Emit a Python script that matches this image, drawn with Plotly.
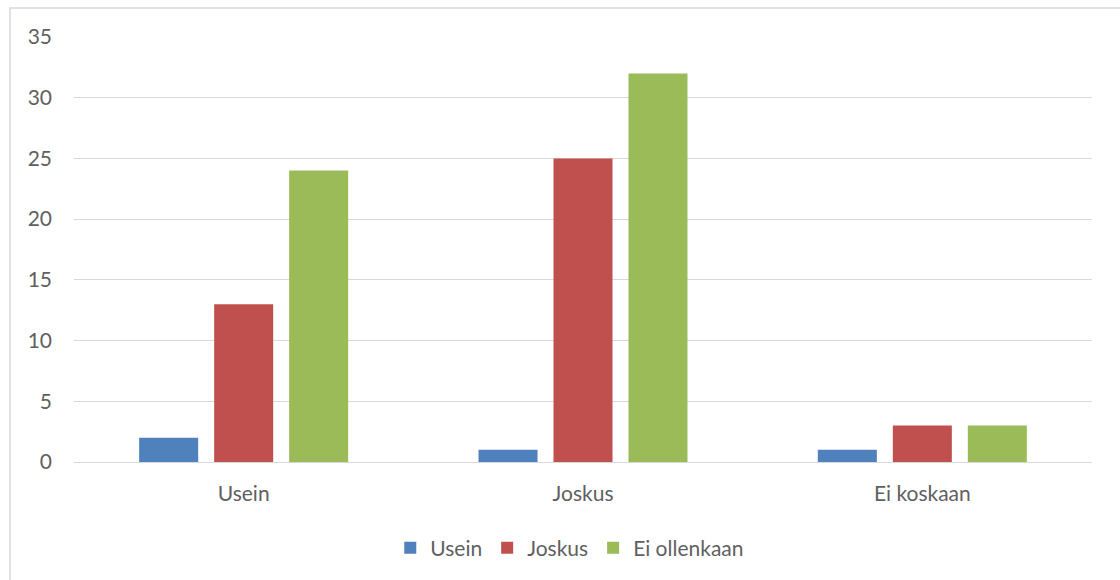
import plotly.graph_objects as go

categories = ["Usein", "Joskus", "Ei koskaan"]
series_names = ["Usein", "Joskus", "Ei ollenkaan"]
usein = [2, 1, 1]
joskus = [13, 25, 3]
ei_ollenkaan = [24, 32, 3]
colors = ["#4F81BD", "#C0504D", "#9BBB59"]
y_ticks = [0, 5, 10, 15, 20, 25, 30, 35]

fig = go.Figure()
for name, vals, col in zip(series_names, [usein, joskus, ei_ollenkaan], colors):
    fig.add_trace(go.Bar(x=categories, y=vals, name=name, marker_color=col,
                         marker_line_width=0))

W, H = 1120, 580
l, r, t, b = 74, 28, 37, 117
pw, ph = W - l - r, H - t - b

FONT = "Lato, Open Sans, sans-serif"
TXT = "#5f5f5f"
fig.update_layout(
    width=W, height=H,
    margin=dict(l=l, r=r, t=t, b=b),
    paper_bgcolor="white", plot_bgcolor="white",
    barmode="group", bargap=0.337, bargroupgap=0.213,
    font=dict(family=FONT, size=21, color=TXT),
    legend=dict(orientation="h", x=0.487, xanchor="center", y=-0.2, yanchor="middle",
                font=dict(family=FONT, size=21, color=TXT), itemwidth=30,
                traceorder="normal"),
    xaxis=dict(showgrid=False, showline=True, linecolor="#D9D9D9", linewidth=1,
               ticks="", tickfont=dict(family=FONT, size=21, color=TXT),
               ticklabelstandoff=13),
    yaxis=dict(range=[0, 35], tickvals=y_ticks, showgrid=True, gridcolor="#D9D9D9",
               gridwidth=1, zeroline=False, showline=False, ticks="",
               ticklabelstandoff=21, tickfont=dict(family=FONT, size=21, color=TXT)),
    shapes=[dict(type="rect", xref="paper", yref="paper",
                 x0=(10 - l) / pw, x1=(W + 5 - l) / pw,
                 y0=-(H + 5 - (H - b)) / ph, y1=(H - b - 8) / ph,
                 line=dict(color="#D9D9D9", width=1.5), fillcolor="rgba(0,0,0,0)",
                 layer="below")],
)

fig.write_html("out.html")
